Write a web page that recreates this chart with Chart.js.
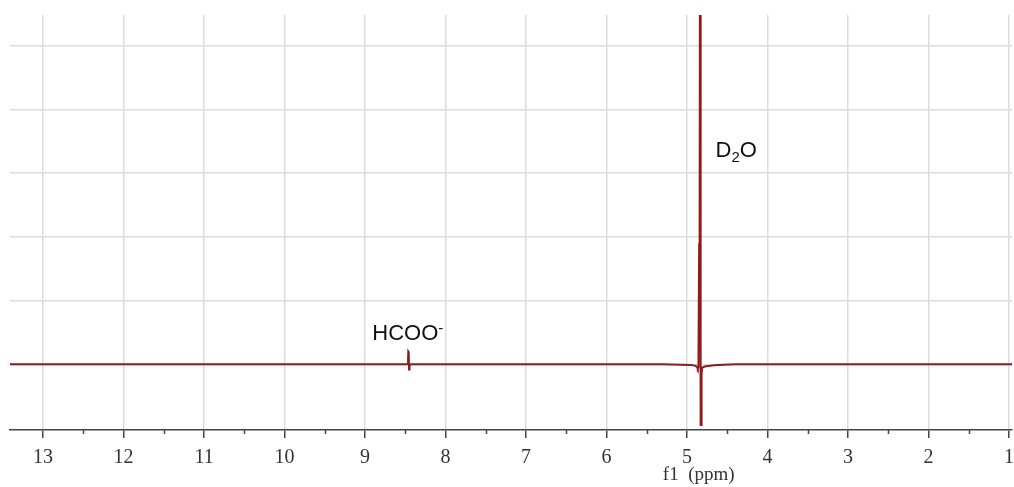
<!DOCTYPE html>
<html>
<head>
<meta charset="utf-8">
<script src="https://cdn.jsdelivr.net/npm/chart.js@4/dist/chart.umd.min.js"></script>
<style>
  html, body { margin: 0; padding: 0; background: #fff; overflow: hidden; }
  /* a little wider than the window so the last tick label runs off the edge, as in the original */
  #wrap { width: 1022px; height: 487px; }
</style>
</head>
<body>
<div id="wrap"><canvas id="nmr"></canvas></div>
<script>
"use strict";

// spectrum: chemical shift (ppm) and intensity (grid units, baseline = 0)
var shifts    = [13.41, 8.48, 8.466, 8.462, 8.457, 8.453, 8.447, 8.43, 5.30, 4.95, 4.90, 4.875, 4.866, 4.858,
                 4.849, 4.846, 4.843, 4.838, 4.833, 4.828, 4.824, 4.819, 4.812, 4.80, 4.78, 4.74, 4.66, 4.55, 4.40, 0.96];
var intensity = [0, 0, 0.01, 0.2, 0.19, -0.08, -0.02, 0, 0, -0.01, -0.02, -0.04, -0.07, -0.05,
                 1.9, 1.9, 0.5, 8, 8, -0.95, -0.95, -0.15, -0.05, -0.045, -0.035, -0.025, -0.015, -0.008, 0, 0];

var majorTicks = [13, 12, 11, 10, 9, 8, 7, 6, 5, 4, 3, 2, 1];
var minorTicks = [12.5, 11.5, 10.5, 9.5, 8.5, 7.5, 6.5, 5.5, 4.5, 3.5, 2.5, 1.5];
var gridRows = [0, 1, 2, 3, 4, 5];

// peak labels: main text, small part, whether small part is superscript, where (ppm, intensity)
var labelMain  = ["HCOO", "D"];
var labelSmall = ["-", "2"];
var labelTail  = ["", "O"];
var labelSup   = [true, false];
var labelPpm   = [8.91, 4.645];
var labelInt   = [0.375, 3.25];

var points = shifts.map(function(s, i) { return { x: s, y: intensity[i] }; });

var extras = {
    id: "extras",
    afterDraw: function(chart) {
        var ctx = chart.ctx;
        var xs = chart.scales.x, ys = chart.scales.y;
        var bottom = chart.chartArea.bottom;
        ctx.save();

        // minor ticks under the axis
        ctx.strokeStyle = "#444";
        ctx.lineWidth = 1.5;
        minorTicks.forEach(function(v) {
            var px = Math.round(xs.getPixelForValue(v)) + 0.5;
            ctx.beginPath();
            ctx.moveTo(px, bottom);
            ctx.lineTo(px, bottom + 4);
            ctx.stroke();
        });

        // axis title, sits under the 5 ppm region like the original
        ctx.fillStyle = "#333";
        ctx.font = '19px "Liberation Serif", serif';
        ctx.textBaseline = "alphabetic";
        ctx.textAlign = "left";
        ctx.fillText("f1  (ppm)", xs.getPixelForValue(5.3), bottom + 50);

        // peak labels
        ctx.fillStyle = "#111";
        for (var i = 0; i < labelMain.length; i++) {
            var px = xs.getPixelForValue(labelPpm[i]);
            var py = ys.getPixelForValue(labelInt[i]);
            ctx.font = '22px "Liberation Sans", Arial, sans-serif';
            ctx.fillText(labelMain[i], px, py);
            var w = ctx.measureText(labelMain[i]).width;
            ctx.font = '15px "Liberation Sans", Arial, sans-serif';
            var sy = labelSup[i] ? py - 7 : py + 5;
            ctx.fillText(labelSmall[i], px + w, sy);
            var w2 = ctx.measureText(labelSmall[i]).width;
            if (labelTail[i]) {
                ctx.font = '22px "Liberation Sans", Arial, sans-serif';
                ctx.fillText(labelTail[i], px + w + w2, py);
            }
        }
        ctx.restore();
    }
};

new Chart(document.getElementById("nmr"), {
    type: "line",
    data: {
        datasets: [{
            data: points,
            borderColor: "#8f1a1c",
            borderWidth: 2,
            pointRadius: 0,
            tension: 0,
            fill: false
        }]
    },
    options: {
        responsive: true,
        maintainAspectRatio: false,
        animation: false,
        layout: {
            padding: { left: 10, top: 15, right: 0, bottom: 9 }
        },
        plugins: {
            legend: { display: false },
            tooltip: { enabled: false },
            title: { display: false }
        },
        scales: {
            x: {
                type: "linear",
                reverse: true,
                min: 0.96,
                max: 13.41,
                afterBuildTicks: function(scale) {
                    scale.ticks = majorTicks.map(function(v) { return { value: v }; });
                },
                grid: {
                    color: "#dcdcdc",
                    lineWidth: 1.5,
                    tickColor: "#444",
                    tickLength: 8,
                    tickWidth: 1.5
                },
                border: { display: true, color: "#444", width: 1.5 },
                ticks: {
                    color: "#333",
                    padding: 8,
                    autoSkip: false,
                    maxRotation: 0,
                    font: { family: '"Liberation Serif", serif', size: 20 }
                }
            },
            y: {
                type: "linear",
                min: -1.03,
                max: 5.48,
                afterBuildTicks: function(scale) {
                    scale.ticks = gridRows.map(function(v) { return { value: v }; });
                },
                grid: { color: "#dcdcdc", lineWidth: 1.5, drawTicks: false },
                border: { display: false },
                ticks: { display: false }
            }
        }
    },
    plugins: [extras]
});
</script>
</body>
</html>
